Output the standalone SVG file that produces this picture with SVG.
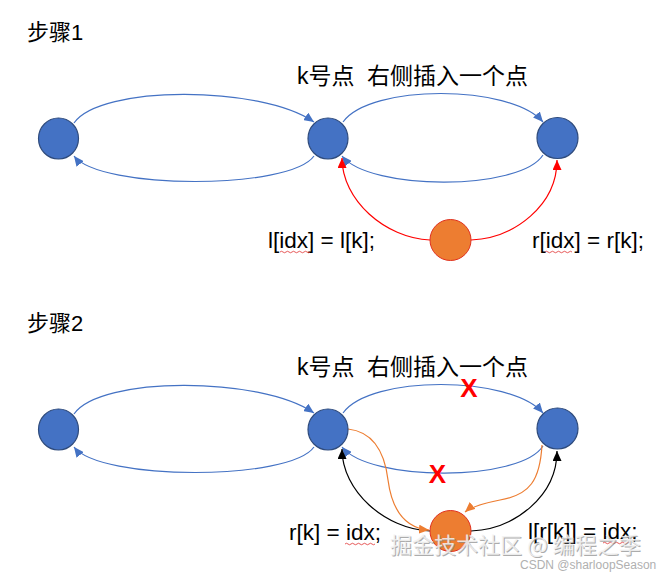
<svg xmlns="http://www.w3.org/2000/svg" width="664" height="576" viewBox="0 0 664 576">
<style>
.t{font-family:"Liberation Sans","Noto Sans CJK SC",sans-serif;fill:#000}
.h{font-size:22px}
.k{font-size:23px}
.lb{font-size:22.5px}
.node{fill:#4472C4;stroke:#2F4B7C;stroke-width:1.2}
.ins{fill:#ED7D31;stroke:#E0301E;stroke-width:1}
.blue{fill:none;stroke:#4472C4;stroke-width:1.2}
.red{fill:none;stroke:#FF0000;stroke-width:1.2}
.blk{fill:none;stroke:#000;stroke-width:1.2}
.org{fill:none;stroke:#ED7D31;stroke-width:1.2}
.wav{fill:none;stroke:#E03030;stroke-width:0.8}
.x{font-family:"Liberation Sans",sans-serif;font-weight:bold;font-size:26px;fill:#FF0000}
</style>
<defs>
<marker id="ab" markerUnits="userSpaceOnUse" markerWidth="10" markerHeight="9" refX="10" refY="4.5" orient="auto"><path d="M0,0 L10,4.5 L0,9 z" fill="#4472C4"/></marker>
<marker id="ar" markerUnits="userSpaceOnUse" markerWidth="10" markerHeight="9" refX="10" refY="4.5" orient="auto"><path d="M0,0 L10,4.5 L0,9 z" fill="#FF0000"/></marker>
<marker id="ak" markerUnits="userSpaceOnUse" markerWidth="10" markerHeight="9" refX="10" refY="4.5" orient="auto"><path d="M0,0 L10,4.5 L0,9 z" fill="#000"/></marker>
<marker id="ao" markerUnits="userSpaceOnUse" markerWidth="10" markerHeight="9" refX="10" refY="4.5" orient="auto"><path d="M0,0 L10,4.5 L0,9 z" fill="#ED7D31"/></marker>
</defs>
<rect width="664" height="576" fill="#fff"/>

<!-- Step 1 -->
<text class="t h" x="27" y="40">步骤1</text>
<text class="t k" x="297" y="84">k号点</text>
<text class="t k" x="367" y="84">右侧插入一个点</text>

<g id="connectors1">
<path class="blue" d="M74,123 C100,85 260,85 314,122" marker-end="url(#ab)"/>
<path class="blue" d="M314,156 C290,190 100,190 74,156" marker-end="url(#ab)"/>
<path class="blue" d="M343,122 C370,84 510,84 543,122" marker-end="url(#ab)"/>
<path class="blue" d="M543,155 C520,191 370,191 342,156" marker-end="url(#ab)"/>
<path class="red" d="M430,240 C385,238 342,200 342,158" marker-end="url(#ar)"/>
<path class="red" d="M471,240 C515,238 557,205 557,160" marker-end="url(#ar)"/>
</g>
<g id="s1-left"><ellipse class="node" cx="58.5" cy="138.5" rx="20" ry="20.5"/></g>
<g id="s1-k"><ellipse class="node" cx="328" cy="138.5" rx="20" ry="20.5"/></g>
<g id="s1-right"><ellipse class="node" cx="557.5" cy="138" rx="20.5" ry="20.5"/></g>
<g id="s1-new"><circle class="ins" cx="450.5" cy="240" r="20.5"/></g>

<text class="t lb" x="268" y="248">l[idx] = l[k];</text>
<text class="t lb" x="532" y="248">r[idx] = r[k];</text>
<path class="wav" d="M280,252 q1.5,-1.5 3,0 t3,0 t3,0 t3,0 t3,0 t3,0 t3,0 t3,0 t3,0 t3,0"/>
<path class="wav" d="M545,252 q1.5,-1.5 3,0 t3,0 t3,0 t3,0 t3,0 t3,0 t3,0 t3,0 t3,0"/>

<!-- Step 2 -->
<text class="t h" x="27" y="331">步骤2</text>
<text class="t k" x="297" y="375">k号点</text>
<text class="t k" x="367" y="375">右侧插入一个点</text>

<g id="connectors2">
<path class="blue" d="M74,414 C100,376 260,376 314,413" marker-end="url(#ab)"/>
<path class="blue" d="M314,447 C290,481 100,481 74,447" marker-end="url(#ab)"/>
<path class="blue" d="M343,413 C370,375 510,375 543,413" marker-end="url(#ab)"/>
<path class="blue" d="M543,446 C520,482 370,482 342,447" marker-end="url(#ab)"/>
<path class="blk" d="M430,531 C385,529 342,491 342,449" marker-end="url(#ak)"/>
<path class="blk" d="M471,531 C515,529 557,496 557,451" marker-end="url(#ak)"/>
<path class="org" d="M348,429 C375,432 385,455 388,480 C392,510 405,528 429,530" marker-end="url(#ao)"/>
<path class="org" d="M542,445 C540,480 530,495 500,500 C485,503 472,506 465,512" marker-end="url(#ao)"/>
</g>
<g id="s2-left"><ellipse class="node" cx="58.5" cy="429.5" rx="20" ry="20.5"/></g>
<g id="s2-k"><ellipse class="node" cx="328" cy="429.5" rx="20" ry="20.5"/></g>
<g id="s2-right"><ellipse class="node" cx="557.5" cy="428.5" rx="20.5" ry="20.5"/></g>
<g id="s2-new"><circle class="ins" cx="450.5" cy="531" r="20.5"/></g>

<text class="x" x="469" y="397" text-anchor="middle">X</text>
<text class="x" x="437.5" y="483" text-anchor="middle">X</text>

<text class="t lb" x="289" y="540">r[k] = idx;</text>
<text class="t lb" x="528" y="539">l[r[k]] = idx;</text>
<path class="wav" d="M345,544 q1.5,-1.5 3,0 t3,0 t3,0 t3,0 t3,0 t3,0 t3,0 t3,0 t3,0 t3,0"/>
<path class="wav" d="M603,543 q1.5,-1.5 3,0 t3,0 t3,0 t3,0 t3,0 t3,0 t3,0 t3,0 t3,0"/>

<!-- watermark -->
<text x="391" y="554" font-family="Noto Sans CJK SC, sans-serif" font-size="22" fill="#8a8a8a" opacity="0.7">掘金技术社区 @ 编程之季</text>
<text x="390" y="553" font-family="Noto Sans CJK SC, sans-serif" font-size="22" fill="#f2f2f2" opacity="0.85">掘金技术社区 @ 编程之季</text>
<text x="520" y="569" font-family="Liberation Sans, sans-serif" font-size="12" fill="#b0b0b0">CSDN @sharloopSeason</text>
</svg>
